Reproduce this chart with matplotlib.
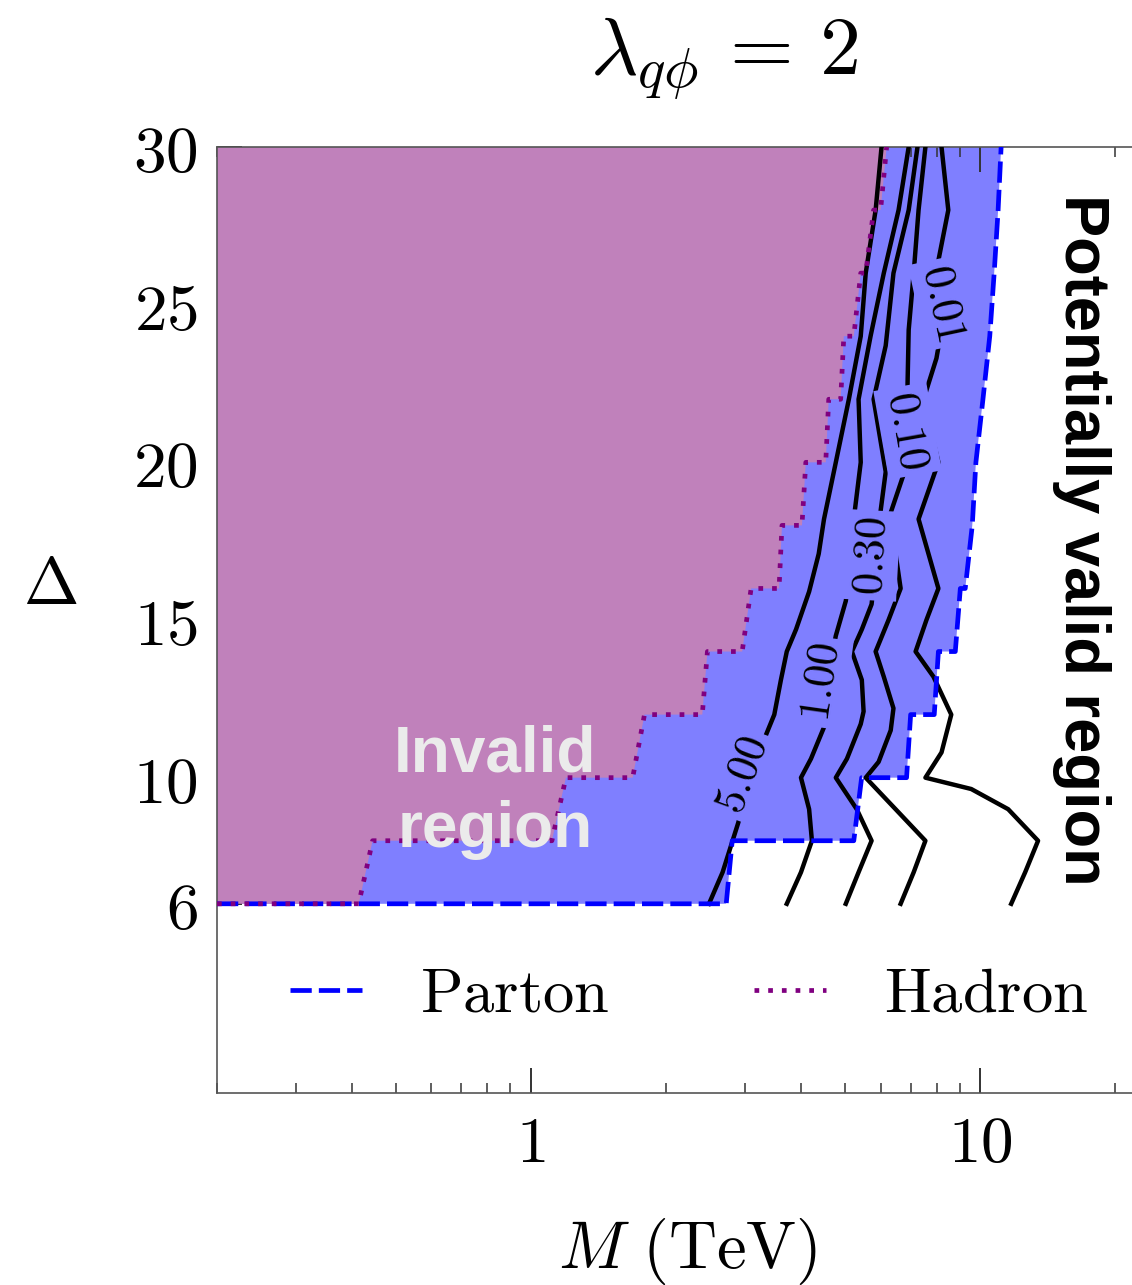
import numpy as np
import matplotlib
matplotlib.use('Agg')
import matplotlib.pyplot as plt
from matplotlib.ticker import NullFormatter

plt.rcParams['mathtext.fontset'] = 'cm'
plt.rcParams['font.family'] = ['DejaVu Sans']

# Delta grid levels where the validity boundaries step
levels = [6, 8, 10, 12, 14, 16, 18, 20, 22, 24, 26, 28, 30]

# Hadron-level boundary (M in TeV): start / end of each horizontal step
hadron_start = [0.2, 0.444, 1.196, 1.789, 2.47, 3.09, 3.62, 4.09, 4.60, 4.97, 5.42, 5.79, 6.19]
hadron_end = [0.4135, 1.113, 1.684, 2.406, 2.952, 3.566, 4.01, 4.53, 4.89, 5.23, 5.56, 6.00, 6.19]

# Parton-level boundary
parton_start = [0.2, 2.805, 5.445, 7.0, 8.07, 9.03, 9.60, 9.78, 10.14, 10.50, 10.74, 10.96, 11.13]
parton_end = [2.72, 5.23, 6.855, 7.9, 8.80, 9.26, 9.60, 9.78, 10.14, 10.50, 10.74, 10.96, 11.13]

# contour lines (Delta, M)
c500_d = [6, 7, 8, 8.55, 10, 11.38, 12, 13.1, 14, 14.7, 15.9, 17.1, 18.2, 20, 22, 24, 26, 28, 30]
c500_m = [2.49, 2.67, 2.81, 2.89, 3.09, 3.34, 3.48, 3.60, 3.71, 3.89, 4.16, 4.37, 4.49, 4.77, 5.10, 5.42, 5.56, 5.85, 6.03]

c100_d = [6, 7, 8, 9, 10, 10.6, 11.6, 13.0, 14.5, 15.6, 16.9, 18.2, 20, 22, 24, 26, 28, 30]
c100_m = [3.71, 3.99, 4.22, 4.16, 3.99, 4.20, 4.49, 4.55, 4.77, 5.02, 5.18, 5.23, 5.42, 5.36, 5.70, 6.10, 6.58, 6.93]

c030_d = [6, 7, 8, 9, 10, 10.6, 11.7, 12.1, 13.1, 14.0, 14.7, 15.5, 17.0, 18.45, 19.7, 22, 23.7, 26, 28, 30]
c030_m = [5.02, 5.36, 5.73, 5.31, 4.77, 5.05, 5.42, 5.50, 5.45, 5.18, 5.45, 5.73, 5.88, 6.00, 6.16, 5.79, 6.16, 6.41, 6.93, 7.25]

c010_d = [6, 7, 8, 9, 10, 10.5, 11.5, 12.2, 13.2, 14, 15, 16, 17.1, 18.2, 19.8, 21, 22.5, 24.2, 26, 28, 30]
c010_m = [6.65, 7.11, 7.55, 6.48, 5.56, 5.94, 6.32, 6.41, 6.10, 5.85, 6.25, 6.65, 6.48, 6.25, 6.82, 6.89, 6.89, 6.93, 7.11, 7.29, 7.55]

c001_d = [6, 7, 8, 9, 9.64, 10, 10.8, 12, 13.2, 14, 15, 16, 17.1, 18.2, 20, 22, 23.3, 24, 25, 26.4, 28, 30]
c001_m = [11.72, 12.59, 13.45, 11.54, 9.55, 7.55, 8.20, 8.62, 7.87, 7.18, 7.59, 8.07, 7.67, 7.29, 8.07, 7.48, 7.99, 8.15, 8.28, 8.07, 8.49, 8.20]

contours = [(c500_d, c500_m), (c100_d, c100_m), (c030_d, c030_m), (c010_d, c010_m), (c001_d, c001_m)]

# contour labels: text, M, Delta, rotation
label_txt = ['5.00', '1.00', '0.30', '0.10', '0.01']
label_m = [2.96, 4.42, 5.73, 6.89, 8.28]
label_d = [10.1, 13.03, 17.05, 21.0, 25.06]
label_rot = [70, 82, 87, -80, -78]

blue_fill = '#7f7fff'
purple_fill = '#c081bb'


def staircase(lv, start, end):
    xs, ys = [], []
    for d, a, b in zip(lv, start, end):
        xs += [a, b]
        ys += [d, d]
    return xs, ys


fig = plt.figure(figsize=(11.32, 12.85), dpi=100)
ax = fig.add_axes([217 / 1132, 1 - 1093 / 1285, (1159 - 217) / 1132, (1093 - 147) / 1285])
ax.set_xscale('log')
ax.set_xlim(0.2, 25)
ax.set_ylim(0, 30)

px, py = staircase(levels, parton_start, parton_end)
hx, hy = staircase(levels, hadron_start, hadron_end)

ax.fill(px + [0.2], py + [30], color=blue_fill, lw=0, zorder=1)
ax.fill(hx + [0.2], hy + [30], color=purple_fill, lw=0, zorder=2)

for d, m in contours:
    ax.plot(m, d, color='k', lw=3.2, zorder=3)

for t, m, d, r in zip(label_txt, label_m, label_d, label_rot):
    ax.text(m, d, '$' + t + '$', rotation=r, rotation_mode='anchor', ha='center', va='center',
            fontsize=32, zorder=4,
            bbox=dict(boxstyle='square,pad=0.12', fc=blue_fill, ec='none'))

ax.plot(px, py, color='blue', lw=3.4, dashes=(4.5, 1.5), zorder=5, label=r'$\mathrm{Parton}$')
ax.plot(hx, hy, color='purple', lw=3.4, dashes=(1, 1.9), zorder=6, label=r'$\mathrm{Hadron}$')

ax.text(0.832, 10.21, 'Invalid', ha='center', va='baseline', fontsize=46, fontweight='bold',
        family='Liberation Sans', color='#ebebeb', zorder=7)
ax.text(0.832, 7.8, 'region', ha='center', va='baseline', fontsize=46, fontweight='bold',
        family='Liberation Sans', color='#ebebeb', zorder=7)

ax.legend(ncol=2, frameon=False, fontsize=45, handlelength=1.15, handletextpad=0.93,
          columnspacing=2.32, loc='center left', bbox_to_anchor=(0.0775, 0.1036),
          borderpad=0, borderaxespad=0)

# ticks
ax.set_xticks([1, 10])
ax.set_xticklabels(['$1$', '$10$'])
ax.xaxis.set_minor_formatter(NullFormatter())
ax.set_yticks([6, 10, 15, 20, 25, 30])
ax.set_yticklabels(['$6$', '$10$', '$15$', '$20$', '$25$', '$30$'])
ax.set_yticks(list(range(7, 30)), minor=True)
ax.tick_params(which='both', direction='in', top=True, right=True, labelsize=47, color='#333333')
ax.tick_params(which='major', length=18, width=1.4, pad=14)
ax.tick_params(which='minor', length=7, width=1.1)
for s in ax.spines.values():
    s.set_color('#555555')
    s.set_linewidth(1.2)

fig.text(724 / 1132, 1 - 75 / 1285, r'$\lambda_{q\phi}\,=\,2$', ha='center', va='baseline', fontsize=59)
fig.text(688 / 1132, 1 - 1268 / 1285, r'$M\ (\mathrm{TeV})$', ha='center', va='baseline', fontsize=48)
fig.text(50 / 1132, 1 - 585 / 1285, r'$\Delta$', ha='center', va='center', fontsize=48)
fig.text(1081 / 1132, 1 - 540 / 1285, 'Potentially valid region', rotation=-90, ha='center', va='center',
         fontsize=45.5, fontweight='bold', family='Liberation Sans', color='black')

fig.savefig('out.png', dpi=100)
